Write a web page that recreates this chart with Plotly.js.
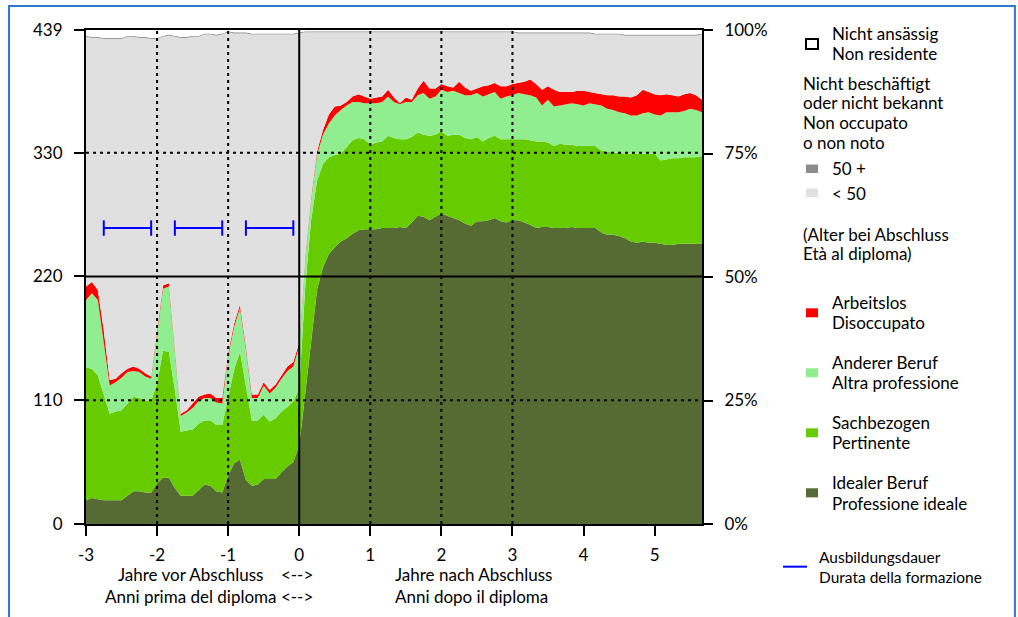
<!DOCTYPE html>
<html>
<head>
<meta charset="utf-8">
<script src="https://cdn.plot.ly/plotly-3.0.1.min.js"></script>
<style>
html,body{margin:0;padding:0;background:#fff;}
#chart{width:1018px;height:617px;}
</style>
</head>
<body>
<div id="chart"></div>
<script>
// Months relative to graduation (x axis is labelled in years)
const months = [-36,-35,-34,-33,-32,-31,-30,-29,-28,-27,-26,-25,-24,-23,-22,-21,-20,-19,-18,-17,-16,-15,-14,-13,-12,-11,-10,-9,-8,-7,-6,-5,-4,-3,-2,-1,
0,1,2,3,4,5,6,7,8,9,10,11,12,13,14,15,16,17,18,19,20,21,22,23,24,25,26,27,28,29,30,31,32,33,34,35,36,37,38,39,40,41,42,43,44,45,46,47,48,49,50,51,52,53,54,55,56,57,58,59,60,61,62,63,64,65,66,67,68];

// Persons (total 439) per status
const idealJob = [21,23,22,21,21,21,21,25,29,29,28,28,36,41,41,32,25,25,25,30,35,34,29,28,43,54,57,39,34,35,40,40,40,46,51,55,
70,115,163,208,228,240,246,251,254,258,261,262,262,262,263,263,263,264,263,268,274,273,270,273,276,274,272,270,267,265,269,269,270,272,269,268,270,270,268,266,263,264,264,263,263,263,264,263,263,263,263,259,257,257,256,254,251,250,251,250,250,249,248,248,249,249,249,249,249];
const pertinent = [118,115,110,95,77,79,80,82,84,83,82,81,89,113,112,87,57,58,59,59,57,58,59,60,70,83,96,83,58,57,57,51,54,54,53,54,
50,95,107,97,92,86,82,78,81,83,82,80,75,77,77,82,80,78,79,76,74,73,75,73,73,71,74,76,76,77,75,71,73,73,73,74,72,72,74,75,77,76,75,73,75,74,73,73,73,73,73,73,74,73,74,75,78,79,78,79,79,74,76,77,76,77,77,77,78];
const otherJob = [60,67,67,47,25,26,29,28,23,23,21,20,43,55,58,36,14,16,19,20,20,20,20,19,36,38,39,33,20,20,26,25,27,29,32,31,
38,26,18,23,26,30,35,39,37,34,32,32,37,35,35,35,32,31,33,31,33,37,33,34,37,39,39,37,38,39,39,40,39,39,36,38,39,41,40,40,39,32,38,35,34,36,37,37,36,38,37,40,38,38,36,36,34,34,36,37,35,40,42,41,41,41,43,42,39];
const unemployed = [12,10,9,9,5,3,4,3,4,3,3,2,4,3,3,3,2,2,4,4,3,4,4,5,3,3,3,3,3,3,3,3,3,3,4,4,
3,2,2,3,4,8,8,4,3,5,7,6,4,5,5,6,4,1,4,2,6,11,9,7,5,5,3,10,7,4,4,9,8,8,11,9,10,9,11,14,12,14,12,15,12,11,10,12,13,10,10,10,12,13,14,15,16,18,21,18,18,18,16,15,14,15,14,13,11];
const notEmployedUnder50 = [222,217,224,259,303,302,297,295,293,294,298,300,259,221,220,275,334,331,326,320,320,319,322,323,285,258,241,278,320,320,309,316,311,303,295,291,
275,199,147,106,87,73,66,65,62,57,55,57,59,58,57,51,58,63,58,60,50,43,50,50,46,48,49,44,49,52,50,48,47,45,48,48,46,44,43,41,45,50,47,50,52,52,52,51,51,52,52,53,54,54,55,54,55,53,48,50,52,53,52,53,54,52,51,53,58];
const notEmployed50plus = [1,1,1,1,1,1,1,1,1,1,1,1,1,1,1,1,1,1,1,1,1,1,1,1,1,1,1,1,1,1,1,1,1,1,1,1,
1,1,1,1,1,1,1,1,1,1,1,1,1,1,1,1,1,1,1,1,1,1,1,1,1,1,1,1,1,1,1,1,1,1,1,1,1,1,1,1,1,1,1,1,1,1,1,1,1,1,1,1,1,1,1,1,1,1,1,1,1,1,1,1,1,1,1,1,1];
const nonResident = [5,6,6,7,7,7,7,5,5,6,6,7,7,5,4,5,6,6,5,5,3,3,4,3,1,2,2,2,3,3,3,3,3,3,3,3,
2,1,1,1,1,1,1,1,1,1,1,1,1,1,1,1,1,1,1,1,1,1,1,1,1,1,1,1,1,1,1,1,1,1,1,1,1,2,2,2,2,2,2,2,2,2,2,2,2,2,3,3,3,3,3,4,4,4,4,4,4,4,4,4,4,4,4,4,3];

// Training periods (months)
const trainingStart = [-33,-21,-9];
const trainingEnd = [-25,-13,-1];
const trainingLevel = 263;

// Axis ticks
const xTickVals = [-36,-24,-12,0,12,24,36,48,60];
const xTickText = ['-3','-2','-1','0','1','2','3','4','5'];
const yTickVals = [0,110,220,330,439];
const yTickText = ['0','110','220','330','439'];
const y2TickVals = [0,25,50,75,100];
const y2TickText = ['0%','25%','50%','75%','100%'];

const FONT = 'Lato, "Open Sans", sans-serif';
const FS = 17;
const C_IDEAL = '#566b33', C_PERT = '#66cc00', C_OTHER = '#90ee90', C_UNEMP = '#ff0000',
      C_U50 = '#e0e0e0', C_50P = '#999999', C_NONRES = '#ffffff';

function area(y, color, name) {
  return {x: months, y: y, type: 'scatter', mode: 'lines', stackgroup: 'one',
    line: {width: 0, color: color}, fillcolor: color, name: name,
    hoverinfo: 'skip', showlegend: false};
}

const traces = [
  area(idealJob, C_IDEAL, 'Idealer Beruf'),
  area(pertinent, C_PERT, 'Sachbezogen'),
  area(otherJob, C_OTHER, 'Anderer Beruf'),
  area(unemployed, C_UNEMP, 'Arbeitslos'),
  area(notEmployedUnder50, C_U50, '< 50'),
  area(notEmployed50plus, C_50P, '50 +'),
  area(nonResident, C_NONRES, 'Nicht ansässig')
];

// training duration bars
const tx = [], ty = [];
trainingStart.forEach((s, i) => { tx.push(s, trainingEnd[i], null); ty.push(trainingLevel, trainingLevel, null); });
traces.push({x: tx, y: ty, type: 'scatter', mode: 'lines+markers', connectgaps: false,
  line: {color: '#0000ff', width: 2},
  marker: {symbol: 'line-ns-open', size: 11, line: {color: '#0000ff', width: 2}, color: '#0000ff'},
  hoverinfo: 'skip', showlegend: false});
// anchor for right axis
traces.push({x: [months[0]], y: [0], yaxis: 'y2', type: 'scatter', mode: 'markers',
  marker: {opacity: 0}, hoverinfo: 'skip', showlegend: false});

const shapes = [];
const xMin = months[0], xMax = months[months.length - 1];
const DOT = {color:'#000', width:2, dash:'3px,4px'};
[-24,-12,12,24,36].forEach(v => shapes.push({type:'line', xref:'x', yref:'y', x0:v, x1:v, y0:0, y1:439, layer:'above', line:DOT}));
[110,330].forEach(v => shapes.push({type:'line', xref:'x', yref:'y', x0:xMin, x1:xMax, y0:v, y1:v, layer:'above', line:DOT}));
shapes.push({type:'line', xref:'x', yref:'y', x0:0, x1:0, y0:0, y1:439, layer:'above', line:{color:'#000', width:2}});
shapes.push({type:'line', xref:'x', yref:'y', x0:xMin, x1:xMax, y0:220, y1:220, layer:'above', line:{color:'#000', width:2}});

// outer blue frame
shapes.push({type:'rect', xref:'paper', yref:'paper', x0:-0.125, x1:1.508, y0:1.0486, y1:-0.25, layer:'below',
  line:{color:'#2a7ad0', width:2}, fillcolor:'rgba(0,0,0,0)'});

// legend swatches
function sw(y0, y1, color, border) {
  shapes.push({type:'rect', xref:'paper', yref:'paper', x0:1.1688, x1:1.1883, y0:y0, y1:y1,
    line:{color: border || color, width: border ? 2 : 0}, fillcolor: color, layer:'above'});
}
sw(0.9615, 0.9818, '#ffffff', '#000000');
sw(0.7105, 0.7277, '#8c8c8c');
sw(0.6619, 0.6791, '#e0e0e0');
sw(0.4184, 0.4366, C_UNEMP);
sw(0.2970, 0.3152, C_OTHER);
sw(0.1755, 0.1937, C_PERT);
sw(0.0540, 0.0723, C_IDEAL);
shapes.push({type:'line', xref:'paper', yref:'paper', x0:1.1315, x1:1.1705, y0:-0.0864, y1:-0.0864,
  line:{color:'#0000ff', width:2}});

const annotations = [];
function txt(x, y, t, size, anchor, align) {
  annotations.push({xref:'paper', yref:'paper', x:x, y:y, text:t, showarrow:false,
    xanchor: anchor || 'left', yanchor:'middle', align: align || 'left',
    font:{family:FONT, size: size || FS, color:'#000'}});
}
const LX = 1.2073, HX = 1.1607;
txt(LX, 0.9939, 'Nicht ansässig');
txt(LX, 0.9534, 'Non residente');
txt(HX, 0.8907, 'Nicht beschäftigt');
txt(HX, 0.8532, 'oder nicht bekannt');
txt(HX, 0.8128, 'Non occupato');
txt(HX, 0.7723, 'o non noto');
txt(LX, 0.7206, '50 +');
txt(LX, 0.6700, '< 50');
txt(HX, 0.5870, '(Alter bei Abschluss');
txt(HX, 0.5466, 'Età al diploma)');
txt(LX, 0.4474, 'Arbeitslos');
txt(LX, 0.4089, 'Disoccupato');
txt(LX, 0.3265, 'Anderer Beruf');
txt(LX, 0.2860, 'Altra professione');
txt(LX, 0.2045, 'Sachbezogen');
txt(LX, 0.1640, 'Pertinente');
txt(LX, 0.0830, 'Idealer Beruf');
txt(LX, 0.0425, 'Professione ideale');
txt(1.1868, -0.0870, 'Ausbildungsdauer<br>Durata della formazione', 15.5);
// x axis titles (two lines each)
txt(0.3720, -0.1255, 'Jahre vor Abschluss&nbsp;&nbsp;&nbsp;&nbsp;&lt;--&gt;<br>Anni prima del diploma &lt;--&gt;', FS, 'right', 'right');
txt(0.4983, -0.1255, 'Jahre nach Abschluss<br>Anni dopo il diploma', FS, 'left', 'left');

const layout = {
  width: 1018, height: 617,
  margin: {l: 86, r: 316, t: 30, b: 93},
  paper_bgcolor: '#ffffff', plot_bgcolor: '#ffffff',
  showlegend: false,
  font: {family: FONT, size: FS, color: '#000'},
  xaxis: {range: [xMin, xMax], tickvals: xTickVals, ticktext: xTickText, ticks: 'outside', ticklen: 10,
    tickwidth: 2, tickcolor: '#000', showline: true, linecolor: '#000', linewidth: 2, mirror: true,
    showgrid: false, zeroline: false, ticklabelstandoff: 5, fixedrange: true},
  yaxis: {range: [0, 439], tickvals: yTickVals, ticktext: yTickText, ticks: 'outside', ticklen: 10,
    tickwidth: 2, tickcolor: '#000', showline: true, linecolor: '#000', linewidth: 2, mirror: true,
    showgrid: false, zeroline: false, ticklabelstandoff: 8, fixedrange: true},
  yaxis2: {range: [0, 100], tickvals: y2TickVals, ticktext: y2TickText, overlaying: 'y', side: 'right',
    ticks: 'outside', ticklen: 10, tickwidth: 2, tickcolor: '#000', showline: false,
    showgrid: false, zeroline: false, ticklabelstandoff: 8, fixedrange: true},
  shapes: shapes,
  annotations: annotations
};

Plotly.newPlot('chart', traces, layout, {staticPlot: true, displayModeBar: false});
</script>
</body>
</html>
